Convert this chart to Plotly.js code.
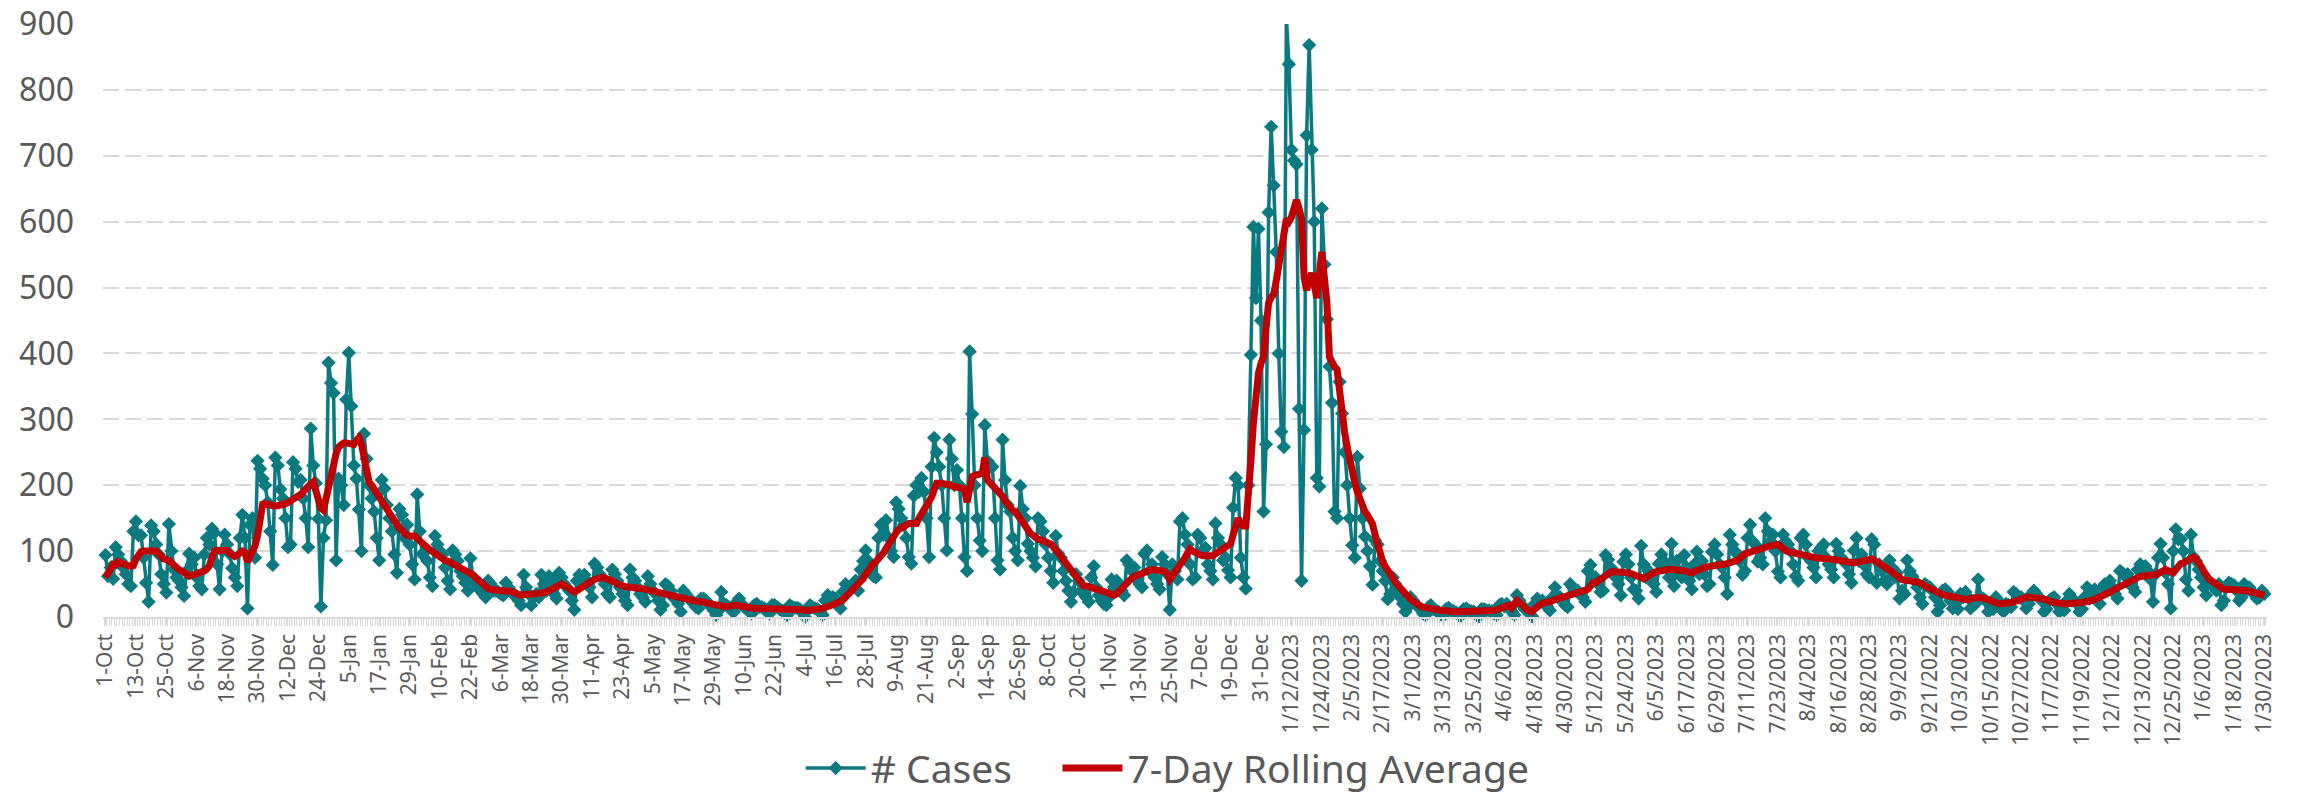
<!DOCTYPE html>
<html>
<head>
<meta charset="utf-8">
<script src="https://cdn.plot.ly/plotly-3.0.1.min.js"></script>
<style>
html,body{margin:0;padding:0;background:#ffffff;}
#chart{width:2302px;height:812px;}
</style>
</head>
<body>
<div id="chart"></div>
<script>
// Tick labels shown under the axis (one every 12 days)
const tickLabels = [
 '1-Oct','13-Oct','25-Oct','6-Nov','18-Nov','30-Nov','12-Dec','24-Dec','5-Jan','17-Jan',
 '29-Jan','10-Feb','22-Feb','6-Mar','18-Mar','30-Mar','11-Apr','23-Apr','5-May','17-May',
 '29-May','10-Jun','22-Jun','4-Jul','16-Jul','28-Jul','9-Aug','21-Aug','2-Sep','14-Sep',
 '26-Sep','8-Oct','20-Oct','1-Nov','13-Nov','25-Nov','7-Dec','19-Dec','31-Dec','1/12/2023',
 '1/24/2023','2/5/2023','2/17/2023','3/1/2023','3/13/2023','3/25/2023','4/6/2023','4/18/2023','4/30/2023','5/12/2023',
 '5/24/2023','6/5/2023','6/17/2023','6/29/2023','7/11/2023','7/23/2023','8/4/2023','8/16/2023','8/28/2023','9/9/2023',
 '9/21/2022','10/3/2022','10/15/2022','10/27/2022','11/7/2022','11/19/2022','12/1/2022','12/13/2022','12/25/2022','1/6/2023',
 '1/18/2023','1/30/2023'
];

// Daily case counts (one row per week)
const cases = [
 94,62,75,58,106,95,85,
 75,65,50,47,130,145,124,
 124,90,52,23,139,130,110,
 95,65,50,37,141,100,72,
 60,55,45,32,70,96,80,
 90,60,47,42,95,120,110,
 134,128,80,42,100,125,110,
 96,74,60,47,120,155,120,
 13,140,150,90,237,225,210,
 200,174,130,79,242,230,194,
 180,150,106,110,235,225,205,
 208,180,150,106,286,230,203,
 149,16,120,147,386,355,340,
 86,210,200,170,330,401,320,
 230,210,163,100,278,240,200,
 180,160,120,86,208,195,170,
 150,130,95,67,164,155,120,
 140,110,80,57,186,130,95,
 100,85,60,47,123,110,100,
 95,75,55,42,101,95,85,
 70,62,52,40,89,60,50,
 45,40,35,30,55,50,40,
 40,38,35,33,52,45,40,
 35,30,25,18,64,45,35,
 18,30,35,30,64,50,40,
 62,55,35,28,67,60,50,
 45,40,25,11,55,64,50,
 64,55,45,30,81,75,65,
 60,50,35,30,72,65,55,
 45,35,25,18,72,60,55,
 45,35,30,23,62,50,40,
 35,25,11,18,50,47,40,
 30,28,20,8,40,35,30,
 25,20,15,13,28,28,25,
 20,15,10,3,10,38,20,
 18,15,10,8,22,28,20,
 15,12,8,5,18,20,15,
 15,13,8,5,18,18,15,
 12,10,6,3,18,15,14,
 14,12,6,0,10,18,15,
 13,12,8,3,25,33,28,
 30,28,20,13,38,50,45,
 45,50,55,40,72,85,101,
 85,75,62,60,120,140,125,
 147,120,100,91,174,164,150,
 140,120,91,81,184,200,190,
 211,190,150,91,228,272,250,
 228,200,150,101,269,240,200,
 223,200,150,91,70,403,308,
 200,150,116,100,291,237,228,
 228,150,86,72,269,208,170,
 160,120,100,86,199,164,150,
 111,100,90,77,150,145,130,
 110,90,70,52,123,96,90,
 70,55,40,23,38,65,55,
 40,35,30,23,60,77,45,
 33,25,20,18,30,57,45,
 55,50,40,33,86,80,70,
 75,57,50,45,96,101,70,
 80,60,50,42,91,80,65,
 11,80,70,57,145,150,125,
 110,80,57,60,125,120,100,
 105,80,70,57,142,120,110,
 86,90,71,60,166,211,200,
 90,60,43,200,398,592,484,
 589,450,160,262,614,744,655,
 554,400,281,258,912,839,709,
 693,687,316,55,284,731,868,
 709,600,211,198,620,535,452,
 380,325,160,150,357,309,250,
 200,150,109,90,243,195,150,
 122,100,77,49,116,110,85,
 70,55,27,35,60,50,40,
 30,20,8,15,30,25,20,
 15,12,5,3,15,18,12,
 10,8,4,2,12,14,10,
 9,7,3,2,12,13,10,
 9,8,3,1,12,12,10,
 10,9,5,3,18,20,16,
 20,15,8,3,33,25,18,
 12,10,5,1,20,28,22,
 25,20,15,10,30,45,30,
 30,25,18,15,50,45,40,
 40,35,30,23,70,79,55,
 60,50,38,40,94,87,75,
 70,60,50,33,84,95,80,
 60,42,40,28,108,80,60,
 70,60,50,38,81,95,85,
 75,60,111,47,85,70,60,
 94,75,55,42,80,99,65,
 85,65,47,50,99,110,95,
 80,75,60,35,125,110,100,
 95,85,64,70,120,140,115,
 110,84,90,80,150,130,115,
 125,100,69,60,125,115,110,
 100,80,62,55,120,125,110,
 90,85,75,60,100,105,110,
 90,80,72,60,111,100,90,
 85,80,65,52,101,120,85,
 95,79,65,60,118,110,52,
 80,70,55,50,86,75,60,
 67,28,40,35,86,70,62,
 55,45,30,20,50,47,45,
 40,30,8,18,40,42,38,
 25,13,20,12,35,30,38,
 30,13,25,20,57,30,28,
 25,8,15,12,30,25,20,
 8,20,18,15,38,35,30,
 30,25,13,20,35,40,35,
 30,25,8,12,25,28,30,
 20,8,15,10,25,35,25,
 25,20,8,12,30,45,28,
 35,42,30,20,45,50,40,
 55,45,35,28,70,67,62,
 65,55,45,38,72,80,70,
 77,70,57,23,65,90,111,
 90,67,50,13,100,133,118,
 118,100,57,40,125,91,85,
 72,60,45,33,55,50,45,
 40,50,18,25,45,52,50,
 48,40,25,30,50,42,45,
 38,35,28,30,40,35
];

// 7-day rolling average (one row per week)
const rollingAvg = [
 60,68,76,80,79,84,82,
 80,79,78,77,78,88,95,
 99,100,100,99,98,99,100,
 96,90,88,87,86,82,78,
 74,72,70,67,64,62,63,
 64,65,68,68,70,73,78,
 90,100,101,101,102,102,101,
 97,93,92,94,96,100,98,
 84,92,100,108,124,150,171,
 172,170,170,169,168,169,170,
 170,172,174,176,178,180,182,
 186,190,195,199,202,205,190,
 185,165,162,180,205,218,235,
 248,258,262,264,264,263,261,
 262,268,272,262,240,215,205,
 200,194,188,180,173,167,160,
 157,151,145,140,135,130,125,
 124,123,123,123,119,115,111,
 108,105,102,99,96,93,91,
 88,86,85,83,81,79,78,
 76,74,72,70,67,64,60,
 56,52,48,45,43,42,41,
 40,40,40,40,40,40,39,
 37,35,33,33,34,35,35,
 35,35,35,35,36,37,38,
 40,42,44,46,48,50,48,
 45,42,40,38,40,43,46,
 48,50,52,55,57,59,60,
 60,59,58,57,56,53,50,
 48,46,45,45,45,45,45,
 45,44,43,42,41,41,40,
 39,38,37,36,35,35,34,
 33,32,31,29,28,27,26,
 25,25,24,24,23,23,22,
 21,20,19,18,17,16,16,
 16,17,17,18,18,17,16,
 15,14,13,13,13,13,13,
 13,13,13,12,12,12,12,
 11,11,11,11,11,11,11,
 11,11,11,10,10,11,11,
 11,11,12,13,14,16,18,
 19,20,22,23,26,30,34,
 38,41,45,49,52,58,65,
 71,77,81,84,88,91,97,
 104,111,117,122,128,133,136,
 139,142,142,142,142,142,150,
 156,160,166,172,182,193,203,
 203,203,202,202,201,199,198,
 197,196,195,194,174,195,213,
 215,216,217,218,242,208,204,
 200,197,193,189,183,176,170,
 164,162,160,154,147,141,135,
 131,127,124,120,118,117,116,
 114,112,111,107,102,96,91,
 86,81,76,72,67,62,56,
 51,47,47,46,45,44,43,
 42,41,40,38,36,34,33,
 35,40,44,47,51,55,59,
 62,63,65,66,67,69,71,
 72,72,71,70,70,69,65,
 57,62,67,72,77,84,90,
 97,103,100,97,95,94,93,
 93,92,91,93,96,99,101,
 103,106,108,111,125,140,150,
 142,138,138,180,236,295,340,
 370,385,395,440,477,485,490,
 510,530,550,580,604,600,607,
 620,633,620,604,515,496,510,
 522,505,484,520,554,515,477,
 395,385,380,376,340,306,280,
 258,236,220,204,190,178,168,
 160,155,148,141,125,110,96,
 84,77,70,64,58,53,48,
 43,38,33,30,27,24,21,
 17,16,15,14,13,12,12,
 11,11,10,10,9,9,8,
 8,8,8,8,8,8,8,
 8,8,8,8,8,8,8,
 9,9,10,11,12,14,15,
 17,18,14,18,25,22,17,
 13,11,9,8,12,16,20,
 21,22,22,23,25,27,28,
 29,30,31,33,34,35,36,
 37,38,39,40,42,47,52,
 52,55,58,61,63,66,68,
 69,69,69,69,69,68,67,
 66,65,64,62,60,58,61,
 64,66,67,69,70,70,71,
 71,72,72,72,72,72,71,
 70,69,68,67,69,71,73,
 74,75,76,77,78,78,79,
 79,80,80,81,82,84,85,
 86,89,93,96,97,99,100,
 101,102,104,105,106,107,108,
 109,111,110,107,103,101,99,
 98,97,96,95,95,94,94,
 93,92,91,89,89,89,89,
 89,88,88,87,87,86,85,
 84,83,82,81,82,83,84,
 85,87,88,89,88,86,84,
 82,79,77,74,71,68,65,
 62,58,57,56,56,55,55,
 54,53,52,50,47,45,42,
 40,38,37,35,34,33,32,
 31,30,29,28,27,26,25,
 26,28,29,30,30,29,29,
 28,26,24,22,20,20,20,
 20,20,21,22,23,25,26,
 28,29,30,30,30,30,30,
 29,28,27,25,24,23,22,
 21,20,20,20,20,20,20,
 21,21,22,22,23,23,24,
 25,27,28,30,32,34,36,
 38,40,42,45,47,50,52,
 54,56,58,60,61,62,62,
 63,63,64,64,64,66,68,
 70,72,70,68,67,72,78,
 81,82,84,86,88,91,88,
 84,77,70,62,58,55,52,
 49,46,42,42,42,42,42,
 42,42,42,42,41,40,39,
 38,37,35,33,33,33
];

const seriesNames = ['# Cases', '7-Day Rolling Average'];
const teal = '#0b7a80';
const red = '#c00000';
const gap = '\u00a0\u00a0\u00a0\u00a0';

const dayIndex = cases.map((_, i) => i);
const tickPositions = tickLabels.map((_, k) => k * 12);

const traces = [
  {
    type: 'scatter', mode: 'lines+markers', name: seriesNames[0] + gap,
    x: dayIndex, y: cases,
    line: {color: teal, width: 3.5},
    marker: {symbol: 'diamond', size: 11, color: teal},
    cliponaxis: false,
    hoverinfo: 'skip'
  },
  {
    type: 'scatter', mode: 'lines', name: seriesNames[1],
    x: dayIndex, y: rollingAvg,
    line: {color: red, width: 7},
    cliponaxis: false,
    hoverinfo: 'skip'
  }
];

const layout = {
  width: 2302, height: 812,
  paper_bgcolor: '#ffffff', plot_bgcolor: '#ffffff',
  font: {family: 'Noto Sans, sans-serif', color: '#595959'},
  margin: {l: 103, r: 35, t: 24, b: 173, pad: 0},
  showlegend: true,
  legend: {
    orientation: 'h', x: 0.492, xanchor: 'center', y: -0.255, yanchor: 'middle',
    font: {size: 39, color: '#595959'}, itemwidth: 60, traceorder: 'normal'
  },
  xaxis: {
    range: [-1, 853], tickmode: 'array', tickvals: tickPositions, ticktext: tickLabels,
    tickangle: -90, tickfont: {size: 21, color: '#595959'},
    ticks: 'outside', ticklen: 7, tickwidth: 1, tickcolor: '#d9d9d9',
    minor: {tickmode: 'linear', tick0: -0.5, dtick: 1, ticks: 'outside', ticklen: 7, tickwidth: 1, tickcolor: '#d9d9d9'},
    showline: true, linecolor: '#d9d9d9', linewidth: 1.5,
    showgrid: false, zeroline: false, fixedrange: true
  },
  yaxis: {
    range: [0, 900], tickmode: 'linear', tick0: 0, dtick: 100,
    tickfont: {size: 32, color: '#595959'},
    showgrid: true, gridcolor: '#d9d9d9', gridwidth: 2, griddash: '16px,6px',
    zeroline: false, showline: false, ticks: '', ticklabelstandoff: 28, fixedrange: true
  }
};

Plotly.newPlot('chart', traces, layout, {displayModeBar: false, staticPlot: true});
</script>
</body>
</html>
